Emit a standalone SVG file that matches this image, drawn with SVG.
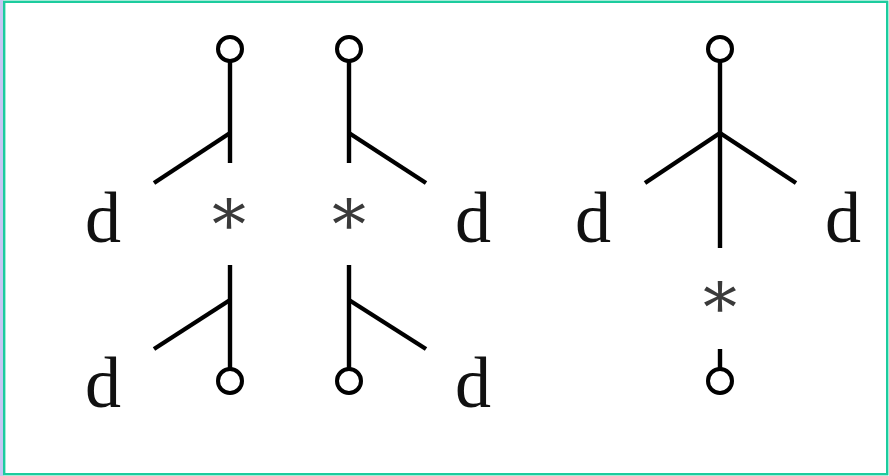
<svg xmlns="http://www.w3.org/2000/svg" width="889" height="476" viewBox="0 0 889 476">
<style>
.ln{stroke:#000;stroke-width:4.4;fill:none;stroke-linecap:butt}
.ci{stroke:#000;stroke-width:4;fill:#fff}
.d{font-family:"Liberation Serif","Times New Roman",serif;font-size:72px;fill:#111}
.a{font-family:"DejaVu Serif","Liberation Serif",serif;font-size:68px;fill:#3a3a3a;text-anchor:middle}
</style>
<rect x="0" y="0" width="889" height="476" fill="#fff"/>
<rect x="0" y="0" width="3.2" height="476" fill="#c6c6f2"/>
<rect x="4.2" y="1.8" width="883" height="472.4" fill="none" stroke="#1ccc9e" stroke-width="2.4"/>
<g id="connectors">
<line class="ln" x1="230" y1="60" x2="230" y2="163"/>
<line class="ln" x1="230" y1="133" x2="154" y2="183"/>
<line class="ln" x1="349" y1="60" x2="349" y2="163"/>
<line class="ln" x1="349" y1="133" x2="426" y2="183"/>
<line class="ln" x1="230" y1="265" x2="230" y2="370"/>
<line class="ln" x1="230" y1="300" x2="154" y2="349"/>
<line class="ln" x1="349" y1="265" x2="349" y2="370"/>
<line class="ln" x1="349" y1="300" x2="426" y2="349"/>
<line class="ln" x1="720" y1="60" x2="720" y2="248"/>
<line class="ln" x1="720" y1="133" x2="645" y2="183"/>
<line class="ln" x1="720" y1="133" x2="796" y2="183"/>
<line class="ln" x1="720" y1="349" x2="720" y2="370"/>
</g>
<g id="n1"><circle class="ci" cx="230" cy="49" r="12"/></g>
<g id="n2"><circle class="ci" cx="349" cy="49" r="12"/></g>
<g id="n3"><circle class="ci" cx="230" cy="381" r="12"/></g>
<g id="n4"><circle class="ci" cx="349" cy="381" r="12"/></g>
<g id="n5"><circle class="ci" cx="720" cy="49" r="12"/></g>
<g id="n6"><circle class="ci" cx="720" cy="381" r="12"/></g>
<g id="labels">
<text class="d" x="85" y="242">d</text>
<text class="d" x="455" y="242">d</text>
<text class="d" x="85" y="407">d</text>
<text class="d" x="455" y="407">d</text>
<text class="d" x="575" y="242">d</text>
<text class="d" x="825" y="242">d</text>
<text class="a" x="229" y="248">*</text>
<text class="a" x="349" y="248">*</text>
<text class="a" x="720" y="331">*</text>
</g>
</svg>
